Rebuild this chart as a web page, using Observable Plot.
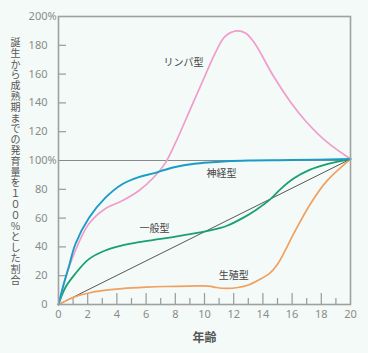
<!DOCTYPE html>
<html>
<head>
<meta charset="utf-8">
<script src="https://cdn.jsdelivr.net/npm/d3@7"></script>
<script src="https://cdn.jsdelivr.net/npm/@observablehq/plot@0.6"></script>
<style>
  html, body { margin: 0; padding: 0; background: #f4faf7; }
</style>
</head>
<body>
<div id="chart"></div>
<script>
// Ages (years) and values (% of growth from birth to maturity)
const lymphAge = [0, 0.5, 1.16, 2.08, 3.2, 4.36, 5.5, 6.5, 7.3, 8.0, 9.0, 10.0, 10.8, 11.4, 12.2, 12.8, 13.4, 14.7, 15.9, 17.0, 18.4, 20];
const lymphVal = [0, 19, 37.5, 56, 66.5, 72, 79, 88, 98, 112, 135, 158, 176, 186, 190, 188.5, 182, 159, 140.5, 126.6, 112.7, 101];

const neuralAge = [0, 0.3, 0.7, 1.16, 2.08, 3.2, 4.36, 5.5, 6.5, 7.05, 8, 9.3, 10.5, 11.5, 13, 16, 20];
const neuralVal = [0, 12, 26, 42, 60, 74, 83.5, 88.5, 91, 92.8, 95.5, 97.7, 98.8, 99.5, 100, 100.3, 101];

const generalAge = [0, 0.48, 1.16, 2.08, 3.2, 4.36, 5.5, 7, 8.5, 10.4, 11.5, 12.7, 13.5, 14.5, 15.3, 16.1, 17.2, 18.4, 20];
const generalVal = [0, 12, 21.5, 31.5, 37.5, 41, 43.3, 45.5, 48, 51.5, 54.5, 60.5, 65.5, 73, 81, 87.5, 93.5, 97.5, 101];

const reproAge = [0, 0.5, 1.16, 2.08, 3, 4.36, 6, 7.3, 9, 10.3, 10.8, 11.5, 12.3, 13, 13.8, 14.5, 15, 15.5, 16.1, 17.26, 18.4, 20];
const reproVal = [0, 2.5, 5.5, 8, 9.6, 11, 12, 12.5, 12.8, 12.8, 11.8, 11.2, 11.8, 13.5, 17.5, 22, 28, 37, 49, 70, 86, 101];

const refAge = [0, 20];
const refVal = [0, 101];

const seriesNames = ["リンパ型", "神経型", "一般型", "生殖型"];
const labelAge = [8.56, 11.16, 6.58, 12.0];
const labelVal = [168, 91, 52.8, 20];

const xTicks = [0, 2, 4, 6, 8, 10, 12, 14, 16, 18, 20];
const xMinor = [1, 3, 5, 7, 9, 11, 13, 15, 17, 19];
const xMajorInner = [2, 4, 6, 8, 10, 12, 14, 16, 18];
const yTicks = [0, 20, 40, 60, 80, 100, 120, 140, 160, 180, 200];
const yInner = [20, 40, 60, 80, 120, 140, 160, 180];
const yPercent = [100, 200];

const xLabel = "年齢";
const yLabel = "誕生から成熟期までの発育量を１００％とした割合";

const toRows = (a, v) => a.map((x, i) => ({x, y: v[i]}));
const labels = seriesNames.map((t, i) => ({t, x: labelAge[i], y: labelVal[i]}));
const yChars = Array.from(yLabel);

const W = 368, H = 353, mT = 16, mB = 49, mL = 58, mR = 18;
const fw = W - mL - mR, fh = H - mT - mB;
const charStep = 10.8;   // vertical advance of the stacked y label
const firstCenter = 45.4; // centre of first stacked character (px from top)

const chart = Plot.plot({
  width: W, height: H,
  marginTop: mT, marginBottom: mB, marginLeft: mL, marginRight: mR,
  x: {domain: [0, 20]},
  y: {domain: [0, 200]},
  style: {background: "#f4faf7", fontFamily: "'Noto Sans', 'Noto Sans CJK JP', sans-serif"},
  marks: [
    Plot.ruleY([100], {stroke: "#8a8a8a", strokeWidth: 1.2}),
    Plot.tickY(yInner, {y: d => d, stroke: "#999", strokeWidth: 1.2, insetRight: fw - 8}),
    Plot.tickX(xMajorInner, {x: d => d, stroke: "#999", strokeWidth: 1.2, insetTop: fh - 11}),
    Plot.tickX(xMinor, {x: d => d, stroke: "#999", strokeWidth: 1.2, insetTop: fh - 6}),
    Plot.line(toRows(refAge, refVal), {x: "x", y: "y", stroke: "#444", strokeWidth: 0.9}),
    Plot.line(toRows(reproAge, reproVal), {x: "x", y: "y", stroke: "#f0a060", strokeWidth: 1.7, curve: "catmull-rom"}),
    Plot.line(toRows(generalAge, generalVal), {x: "x", y: "y", stroke: "#17a070", strokeWidth: 1.8, curve: "catmull-rom"}),
    Plot.line(toRows(lymphAge, lymphVal), {x: "x", y: "y", stroke: "#f29ccb", strokeWidth: 1.7, curve: "catmull-rom"}),
    Plot.line(toRows(neuralAge, neuralVal), {x: "x", y: "y", stroke: "#1a9cc6", strokeWidth: 1.9, curve: "catmull-rom"}),
    Plot.frame({stroke: "#a0a0a0", strokeWidth: 1.6}),
    Plot.axisY(yTicks, {tickSize: 0, tickPadding: 11, fontSize: 11, fill: "#8a8a8a", label: null}),
    Plot.text(yPercent, {y: d => d, text: () => "%", frameAnchor: "left", textAnchor: "start", dx: -11, fontSize: 11, fill: "#8a8a8a"}),
    Plot.axisX(xTicks, {tickSize: 0, tickPadding: 6, fontSize: 11, fill: "#8a8a8a", label: null}),
    Plot.text([xLabel], {frameAnchor: "bottom", textAnchor: "middle", lineAnchor: "middle", dy: 34, fontSize: 12, fill: "#555", fontWeight: "bold"}),
    Plot.text(yChars, {frameAnchor: "top-left", textAnchor: "middle", lineAnchor: "middle", dx: -43, fontSize: 10, fill: "#555",
      render: (index, scales, values, dims, context, next) => {
        const g = next(index, scales, values, dims, context);
        d3.select(g).selectAll("text")
          .attr("y", (_, k) => firstCenter - mT + k * charStep);
        return g;
      }}),
    Plot.text(labels, {x: "x", y: "y", text: "t", fontSize: 10, fill: "#444"})
  ]
});
document.getElementById("chart").appendChild(chart);
</script>
</body>
</html>
